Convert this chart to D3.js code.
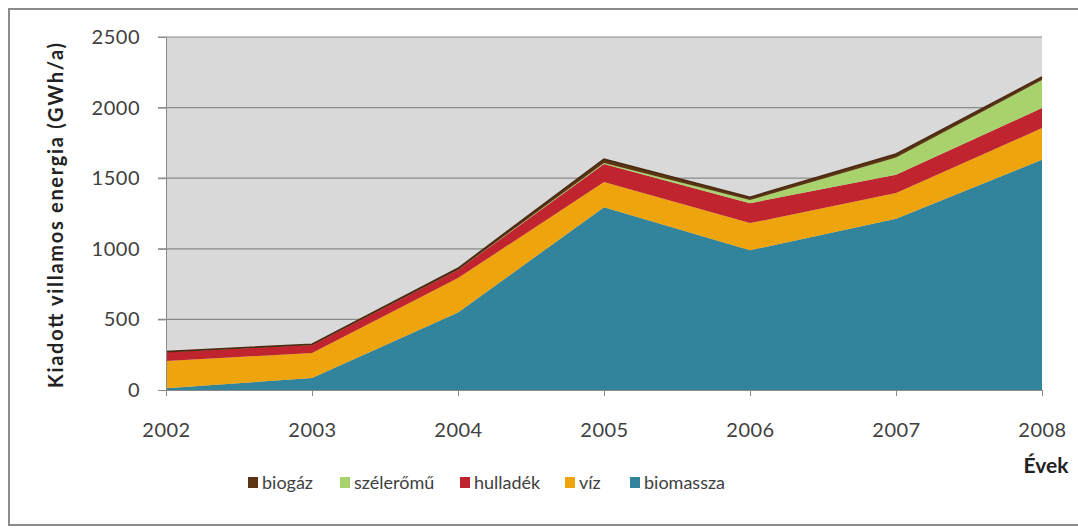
<!DOCTYPE html>
<meta charset="utf-8">
<style>
body { margin: 0; background: #fff; }
svg text { font-family: Lato, "Open Sans", sans-serif; }
.tick text { fill: #404040; font-size: 20px; letter-spacing: 0.5px; }
</style>
<body>
<div id="chart"></div>
<script src="https://cdn.jsdelivr.net/npm/d3@7"></script>
<script>
// data (GWh/a)
var years = [2002, 2003, 2004, 2005, 2006, 2007, 2008];
var biomassza = [12, 85, 548, 1295, 990, 1212, 1630];
var viz = [193, 177, 245, 178, 192, 183, 225];
var hulladek = [62, 57, 57, 127, 141, 130, 142];
var szeleromu = [0, 0, 0, 8, 22, 122, 198];
var biogaz = [5, 5, 12, 28, 20, 25, 22];
var yTicks = [0, 500, 1000, 1500, 2000, 2500];

var seriesNames = ["biomassza", "víz", "hulladék", "szélerőmű", "biogáz"];
var seriesColors = ["#31849b", "#eea40c", "#c0242f", "#a8d26c", "#5b3414"];
var legendOrder = ["biogáz", "szélerőmű", "hulladék", "víz", "biomassza"];
var legendX = [248, 340, 460, 565, 630];

var width = 1078, height = 529;
var margin = {top: 37, right: 36, bottom: 139, left: 166};

var rows = years.map(function(y, i) {
    return {year: y, "biomassza": biomassza[i], "víz": viz[i], "hulladék": hulladek[i],
        "szélerőmű": szeleromu[i], "biogáz": biogaz[i]};
});

var svg = d3.select("#chart").append("svg")
    .attr("width", width)
    .attr("height", height);

// outer frame
svg.append("rect")
    .attr("x", 9).attr("y", 9)
    .attr("width", 1090).attr("height", 516)
    .attr("fill", "#fff")
    .attr("stroke", "#8c8c8c")
    .attr("stroke-width", 2);

var x = d3.scaleLinear().domain([2002, 2008]).range([margin.left, width - margin.right]);
var y = d3.scaleLinear().domain([0, 2500]).range([height - margin.bottom, margin.top]);

// plot background
svg.append("rect")
    .attr("x", x(2002)).attr("y", y(2500))
    .attr("width", x(2008) - x(2002)).attr("height", y(0) - y(2500))
    .attr("fill", "#d9d9d9");

// gridlines
svg.append("g").selectAll("line")
    .data(yTicks.slice(1))
    .enter().append("line")
    .attr("x1", x(2002) - 8).attr("x2", x(2008))
    .attr("y1", function(d) { return y(d); })
    .attr("y2", function(d) { return y(d); })
    .attr("stroke", "#8a8a8a")
    .attr("stroke-width", 1.2);

var stack = d3.stack().keys(seriesNames);
var layers = stack(rows);

var area = d3.area()
    .x(function(d) { return x(d.data.year); })
    .y0(function(d) { return y(d[0]); })
    .y1(function(d) { return y(d[1]); });

svg.append("g").selectAll("path")
    .data(layers)
    .enter().append("path")
    .attr("d", area)
    .attr("fill", function(d, i) { return seriesColors[i]; });

// dark top edge on the biogáz layer
svg.append("path")
    .datum(layers[4])
    .attr("d", d3.line()
        .x(function(d) { return x(d.data.year); })
        .y(function(d) { return y(d[1]); }))
    .attr("fill", "none")
    .attr("stroke", "#4a2a10")
    .attr("stroke-width", 1.6);

// y axis
var yAxis = svg.append("g")
    .attr("transform", "translate(" + x(2002) + ",0)")
    .call(d3.axisLeft(y).tickValues(yTicks).tickFormat(d3.format("d")).tickSize(8).tickPadding(18));
yAxis.select(".domain").attr("stroke", "#8a8a8a");
yAxis.selectAll(".tick line").attr("stroke", "#8a8a8a");

// x axis
var xAxis = svg.append("g")
    .attr("transform", "translate(0," + y(0) + ")")
    .call(d3.axisBottom(x).tickValues(years).tickFormat(d3.format("d")).tickSize(6).tickPadding(27));
xAxis.select(".domain").attr("stroke", "#8a8a8a");
xAxis.selectAll(".tick line").attr("stroke", "#8a8a8a");

// axis titles
svg.append("text")
    .attr("transform", "translate(63," + ((y(0) + y(2500)) / 2 + 2) + ") rotate(-90)")
    .attr("text-anchor", "middle")
    .attr("font-size", 20)
    .attr("font-weight", "bold")
    .attr("fill", "#222")
    .attr("textLength", 345)
    .attr("lengthAdjust", "spacing")
    .text("Kiadott villamos energia (GWh/a)");

svg.append("text")
    .attr("x", 1046).attr("y", 473)
    .attr("text-anchor", "middle")
    .attr("font-size", 21)
    .attr("font-weight", "bold")
    .attr("fill", "#222")
    .text("Évek");

// legend
var legend = svg.append("g").selectAll("g")
    .data(legendOrder)
    .enter().append("g")
    .attr("transform", function(d, i) { return "translate(" + legendX[i] + ",483)"; });

legend.append("rect")
    .attr("x", 0).attr("y", -6)
    .attr("width", 10).attr("height", 11)
    .attr("fill", function(d) { return seriesColors[seriesNames.indexOf(d)]; });

legend.append("text")
    .attr("x", 14).attr("y", 6)
    .attr("font-size", 18)
    .attr("fill", "#404040")
    .text(function(d) { return d; });
</script>
</body>
